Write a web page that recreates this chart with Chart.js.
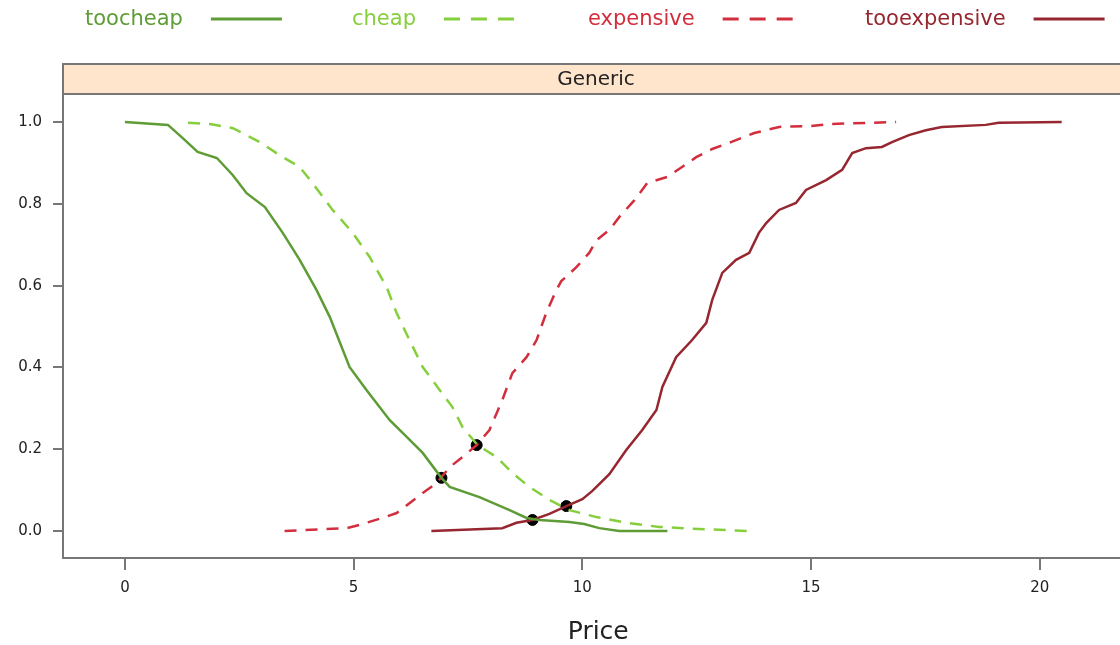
<!DOCTYPE html>
<html lang="en">
<head>
<meta charset="UTF-8">
<title>Generic price sensitivity</title>
<script src="https://cdn.jsdelivr.net/npm/chart.js"></script>
<style>
  html, body { margin: 0; padding: 0; background: #fff; overflow: hidden; }
  #wrap { width: 1120px; height: 645px; overflow: hidden; position: relative; }
  canvas { display: block; }
</style>
</head>
<body>
<div id="wrap"><canvas id="chart" width="1140" height="645"></canvas></div>
<script>
// series (price, share)
const tooCheapX = [0, 0.94, 1.24, 1.59, 2.01, 2.36, 2.66, 3.06, 3.45, 3.82, 4.19, 4.48, 4.91, 5.28, 5.79, 6.16, 6.51, 6.92, 7.10, 7.75, 8.41, 8.78, 9.06, 9.72, 10.04, 10.37, 10.81, 11.86];
const tooCheapY = [1.0, 0.993, 0.963, 0.927, 0.912, 0.870, 0.826, 0.792, 0.729, 0.663, 0.589, 0.523, 0.401, 0.345, 0.271, 0.230, 0.191, 0.130, 0.108, 0.083, 0.051, 0.032, 0.027, 0.022, 0.017, 0.007, 0.0, 0.0];

const cheapX = [1.38, 1.86, 2.36, 2.95, 3.38, 3.82, 4.10, 4.54, 4.98, 5.35, 5.72, 5.94, 6.22, 6.51, 6.88, 7.16, 7.38, 7.71, 8.12, 8.47, 8.84, 9.28, 9.72, 10.31, 10.96, 11.68, 12.55, 13.60];
const cheapY = [0.998, 0.995, 0.985, 0.951, 0.919, 0.890, 0.851, 0.785, 0.729, 0.670, 0.597, 0.533, 0.467, 0.401, 0.345, 0.303, 0.254, 0.210, 0.181, 0.142, 0.108, 0.076, 0.051, 0.034, 0.020, 0.010, 0.005, 0.0];

const expensiveX = [3.49, 4.85, 5.13, 5.63, 5.94, 6.22, 6.51, 6.81, 7.10, 7.38, 7.69, 7.97, 8.25, 8.47, 8.78, 9.00, 9.21, 9.43, 9.54, 9.87, 10.15, 10.31, 10.59, 10.81, 11.14, 11.42, 11.86, 12.18, 12.49, 12.84, 13.25, 13.76, 14.30, 14.96, 15.39, 16.86];
const expensiveY = [0.0, 0.007, 0.015, 0.032, 0.044, 0.068, 0.093, 0.117, 0.156, 0.181, 0.210, 0.247, 0.320, 0.386, 0.425, 0.467, 0.533, 0.589, 0.611, 0.645, 0.680, 0.711, 0.736, 0.768, 0.809, 0.851, 0.866, 0.890, 0.914, 0.934, 0.951, 0.973, 0.988, 0.990, 0.995, 1.0];

const tooExpensiveX = [6.70, 8.25, 8.56, 8.91, 9.28, 9.65, 10.00, 10.22, 10.59, 10.96, 11.31, 11.62, 11.75, 12.05, 12.40, 12.71, 12.84, 13.06, 13.36, 13.65, 13.86, 14.02, 14.30, 14.67, 14.89, 15.33, 15.68, 15.90, 16.20, 16.55, 16.77, 17.14, 17.51, 17.86, 18.82, 19.10, 20.48];
const tooExpensiveY = [0.0, 0.007, 0.020, 0.027, 0.042, 0.061, 0.078, 0.098, 0.139, 0.198, 0.247, 0.296, 0.352, 0.425, 0.467, 0.509, 0.565, 0.631, 0.663, 0.680, 0.729, 0.753, 0.785, 0.802, 0.834, 0.858, 0.883, 0.924, 0.936, 0.939, 0.951, 0.968, 0.980, 0.988, 0.993, 0.998, 1.0];

// crossing points
const crossX = [6.92, 7.69, 8.91, 9.65];
const crossY = [0.130, 0.210, 0.027, 0.061];

const seriesNames = ['toocheap', 'cheap', 'expensive', 'tooexpensive'];
const panelLabel = 'Generic';
const xTicks = [0, 5, 10, 15, 20];
const yTicks = [0, 0.2, 0.4, 0.6, 0.8, 1.0];
const xTitle = 'Price';

const colors = ['#5e9c36', '#86cf3c', '#d22e3e', '#96262f'];
const dashes = [[], [12, 9], [12, 9], []];
const FONT = '"DejaVu Sans", sans-serif';

const pts = (xs, ys) => xs.map((x, i) => ({ x, y: ys[i] }));
const series = [
  pts(tooCheapX, tooCheapY),
  pts(cheapX, cheapY),
  pts(expensiveX, expensiveY),
  pts(tooExpensiveX, tooExpensiveY)
];

const datasets = series.map((data, i) => ({
  label: seriesNames[i],
  data,
  borderColor: colors[i],
  borderDash: dashes[i],
  borderWidth: 2.5,
  pointRadius: 0,
  tension: 0,
  fill: false
}));
datasets.push({
  label: 'cross',
  data: pts(crossX, crossY),
  showLine: false,
  pointRadius: 5.5,
  pointBackgroundColor: '#000',
  pointBorderColor: '#000'
});

// strip, frame and legend in lattice style
const latticePlugin = {
  id: 'lattice',
  afterDraw(chart) {
    const { ctx, chartArea: a } = chart;
    const stripTop = 64;
    ctx.save();
    ctx.fillStyle = '#ffe5cc';
    ctx.fillRect(a.left, stripTop, chart.width - a.left, a.top - stripTop);
    ctx.strokeStyle = '#777';
    ctx.lineWidth = 2;
    ctx.strokeRect(a.left, stripTop, a.right - a.left, a.bottom - stripTop);
    ctx.beginPath();
    ctx.moveTo(a.left, a.top);
    ctx.lineTo(a.right, a.top);
    ctx.stroke();
    ctx.fillStyle = '#222';
    ctx.font = '20px ' + FONT;
    ctx.textAlign = 'center';
    ctx.textBaseline = 'middle';
    ctx.fillText(panelLabel, 596, (stripTop + a.top) / 2 + 1);

    const starts = [85, 352, 588, 865];
    ctx.font = '21px ' + FONT;
    ctx.textAlign = 'left';
    seriesNames.forEach((name, i) => {
      ctx.fillStyle = colors[i];
      ctx.fillText(name, starts[i], 20);
      const w = ctx.measureText(name).width;
      ctx.strokeStyle = colors[i];
      ctx.lineWidth = 3;
      ctx.setLineDash(dashes[i].length ? [16, 11] : []);
      ctx.beginPath();
      ctx.moveTo(starts[i] + w + 28, 19);
      ctx.lineTo(starts[i] + w + 99, 19);
      ctx.stroke();
    });
    ctx.restore();
  }
};

new Chart(document.getElementById('chart'), {
  type: 'line',
  data: { datasets },
  options: {
    responsive: false,
    animation: false,
    devicePixelRatio: 1,
    layout: { padding: { top: 94, right: 5, left: 0, bottom: 0 } },
    plugins: { legend: { display: false }, tooltip: { enabled: false } },
    scales: {
      x: {
        type: 'linear',
        min: -1.354,
        max: 22.05,
        afterBuildTicks: s => { s.ticks = xTicks.map(v => ({ value: v })); },
        afterFit: s => { s.height = 87; },
        grid: { drawOnChartArea: false, tickLength: 12, color: '#777', lineWidth: 2 },
        border: { color: '#777', width: 2 },
        ticks: { color: '#222', font: { family: FONT, size: 15 }, padding: 9, callback: v => String(v) },
        title: { display: true, text: xTitle, color: '#222', font: { family: FONT, size: 25, lineHeight: 1.0 }, padding: { top: 0, bottom: 0 } }
      },
      y: {
        type: 'linear',
        min: -0.066,
        max: 1.0685,
        afterBuildTicks: s => { s.ticks = yTicks.map(v => ({ value: v })); },
        afterFit: s => { s.width = 63; },
        grid: { drawOnChartArea: false, tickLength: 10, color: '#777', lineWidth: 2 },
        border: { color: '#777', width: 2 },
        ticks: { color: '#222', font: { family: FONT, size: 15 }, padding: 11, callback: v => v.toFixed(1) }
      }
    }
  },
  plugins: [latticePlugin]
});
</script>
</body>
</html>
